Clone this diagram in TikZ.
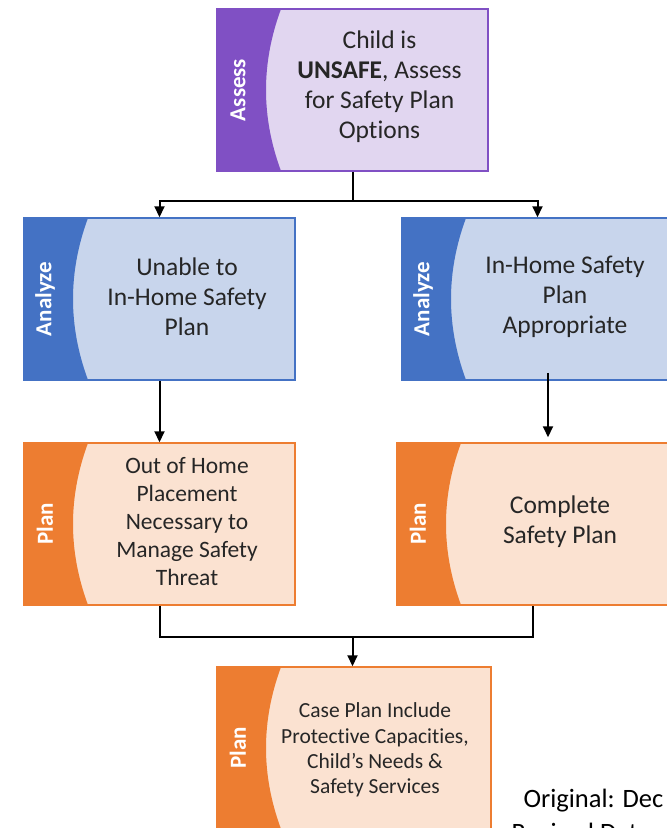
\documentclass[tikz,border=0pt]{standalone}
\usepackage{fontspec}
\setmainfont{Carlito}[Ligatures=NoCommon]
\usetikzlibrary{calc,arrows.meta}

\definecolor{assessDark}{RGB}{128,80,196}
\definecolor{assessLight}{RGB}{225,214,240}
\definecolor{analyzeDark}{RGB}{68,114,196}
\definecolor{analyzeLight}{RGB}{200,213,236}
\definecolor{planDark}{RGB}{237,125,49}
\definecolor{planLight}{RGB}{251,226,209}

\tikzset{
  stage/.style n args={4}{draw=#1, line width=1.5pt, fill=#2, inner sep=0pt,
    minimum width=#4, minimum height=162pt,
    path picture={
      \fill[#1] (path picture bounding box.north west) -- ++(64,0)
        .. controls +(-20,54) and +(-20,-54) .. ($(path picture bounding box.south west)+(64,0)$)
        -- (path picture bounding box.south west) -- cycle;
      \node[rotate=90, text=white, font=\bfseries\fontsize{23}{23}\selectfont]
        at ($(path picture bounding box.west)+(21,0)$) {#3};
    }},
  assessbox/.style={stage={assessDark}{assessLight}{Assess}{271pt}},
  analyzebox/.style={stage={analyzeDark}{analyzeLight}{Analyze}{271pt}},
  planbox/.style={stage={planDark}{planLight}{Plan}{#1}},
  planbox/.default=271pt,
  boxtext/.style={align=center, font=\fontsize{25.5}{30}\selectfont, text=black!85},
  line/.style={line width=2pt},
  arrow/.style={line width=2pt, -{Triangle[length=11pt,width=10pt]}}
}

\begin{document}
\begin{tikzpicture}[x=1pt, y=-1pt]
\clip (0,0) rectangle (667,828);

% Assess
\node[assessbox] (assess) at (352.5,90) {};
\node[boxtext] (assessTxt) at (379.5,87) {Child is\\\textbf{UNSAFE}, Assess\\for Safety Plan\\Options};

% Analyze
\node[analyzebox] (anLeft) at (159.5,299) {};
\node[boxtext] (anLeftTxt) at (187,297) {Unable to\\In-Home Safety\\Plan};
\node[analyzebox] (anRight) at (537.5,299) {};
\node[boxtext] (anRightTxt) at (565,297) {In-Home Safety\\Plan\\Appropriate};

% Plan
\node[planbox] (plLeft) at (159.5,524) {};
\node[boxtext, font=\fontsize{23.5}{27.8}\selectfont] (plLeftTxt) at (187,521.5)
  {Out of Home\\Placement\\Necessary to\\Manage Safety\\Threat};
\node[planbox] (plRight) at (532.5,524) {};
\node[boxtext] (plRightTxt) at (560,522) {Complete\\Safety Plan};
\node[planbox=274pt] (plCase) at (354,748) {};
\node[boxtext, font=\fontsize{21.5}{25.3}\selectfont] (plCaseTxt) at (375,750)
  {Case Plan Include\\Protective Capacities,\\Child’s Needs \&\\Safety Services};

% connectors
\coordinate (split) at (352.5,201);
\draw[line] (assess.south) -- (split);
\draw[arrow] (split) -| (anLeft.north);
\draw[arrow] (split) -| (anRight.north);
\draw[arrow] (anLeft.south) -- (plLeft.north);
\draw[arrow] ([xshift=10.5pt,yshift=8pt]anRight.south) -- ([xshift=15.5pt,yshift=5pt]plRight.north);
\coordinate (join) at (352.5,637);
\draw[line] (plLeft.south) |- (join) -| (plRight.south);
\draw[arrow] (join) -- (join |- plCase.north);

% dates
\node[anchor=west, font=\fontsize{26.5}{30}\selectfont] (orig) at (520,801) {Original: Dec};
\node[anchor=west, font=\fontsize{26.5}{30}\selectfont] (rev) at (508,832) {Revised Date:};
\end{tikzpicture}
\end{document}
